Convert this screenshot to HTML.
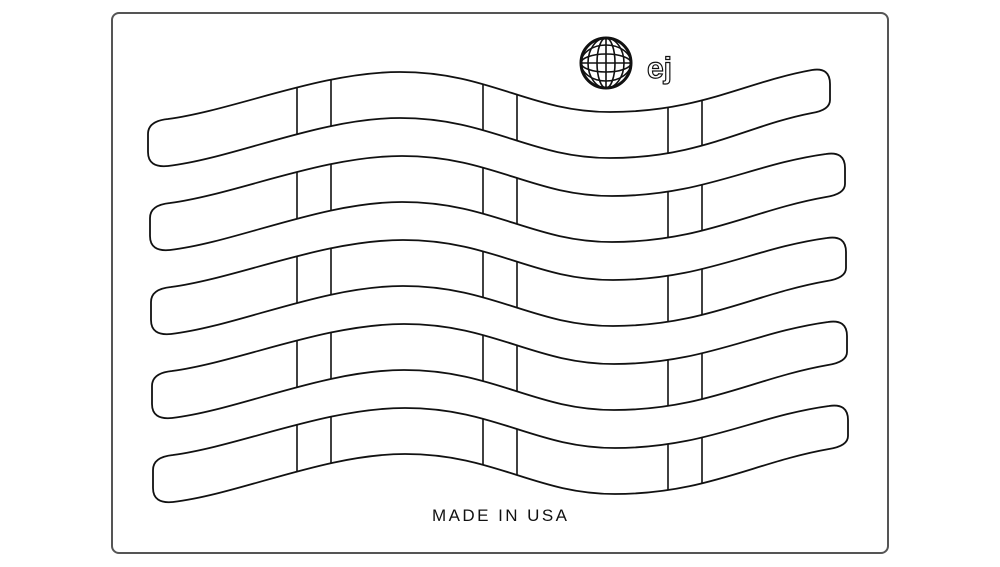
<!DOCTYPE html>
<html><head><meta charset="utf-8"><style>
html,body{margin:0;padding:0;background:#fff;width:1000px;height:567px;overflow:hidden}
</style></head><body>
<svg width="1000" height="567" viewBox="0 0 1000 567" xmlns="http://www.w3.org/2000/svg">
<defs>
<path id="band" d="M168,119 C235,110 320,72 400,72 C490,72 530,112 610,112 C700,112 745,82 812,70 Q830,67 830,84 L830,100 Q830,110 812,113 C745,126 700,158 610,158 C530,158 490,118 400,118 C320,118 235,158 168,166 Q148,168 148,152 L148,134 Q148,121 168,119 Z"/>
<path id="band2" d="M168,119 C235,110 320,72 400,72 C490,72 530,112 610,112 C700,112 750,80 824,70 Q843,67 843,84 L843,100 Q843,110 824,113 C750,126 700,158 610,158 C530,158 490,118 400,118 C320,118 235,158 168,166 Q148,168 148,152 L148,134 Q148,121 168,119 Z"/>
<clipPath id="c1"><use href="#band"/></clipPath>
<clipPath id="c2"><use href="#band2"/></clipPath>
<g id="bars" fill="none" stroke="#111" stroke-width="1.6">
<line x1="297" y1="0" x2="297" y2="200"/><line x1="331" y1="0" x2="331" y2="200"/>
<line x1="483" y1="0" x2="483" y2="200"/><line x1="517" y1="0" x2="517" y2="200"/>
<line x1="668" y1="0" x2="668" y2="200"/><line x1="702" y1="0" x2="702" y2="200"/>
</g>
</defs>
<rect x="112" y="13" width="776" height="540" rx="7" fill="none" stroke="#555" stroke-width="2"/>
<g fill="none" stroke="#111" stroke-width="1.8">
<use href="#band"/>
<g clip-path="url(#c1)"><use href="#bars"/></g>
<g transform="translate(2,84)"><use href="#band2"/><g clip-path="url(#c2)"><use href="#bars" transform="translate(-2,0)"/></g></g>
<g transform="translate(3,168)"><use href="#band2"/><g clip-path="url(#c2)"><use href="#bars" transform="translate(-3,0)"/></g></g>
<g transform="translate(4,252)"><use href="#band2"/><g clip-path="url(#c2)"><use href="#bars" transform="translate(-4,0)"/></g></g>
<g transform="translate(5,336)"><use href="#band2"/><g clip-path="url(#c2)"><use href="#bars" transform="translate(-5,0)"/></g></g>
</g>
<g fill="none" stroke="#111" stroke-width="1.6">
<circle cx="606" cy="63" r="25" stroke-width="3"/>
<ellipse cx="606" cy="63" rx="18" ry="25"/>
<ellipse cx="606" cy="63" rx="9" ry="25"/>
<ellipse cx="606" cy="63" rx="25" ry="18"/>
<ellipse cx="606" cy="63" rx="25" ry="9"/>
<line x1="581" y1="63" x2="631" y2="63"/>
<line x1="606" y1="38" x2="606" y2="88"/>
</g>
<text x="647" y="78" font-family="Liberation Sans, sans-serif" font-size="30" font-weight="bold" fill="none" stroke="#111" stroke-width="1.2">ej</text>
<text x="432" y="521" textLength="135" lengthAdjust="spacing" font-family="Liberation Sans, sans-serif" font-size="17" fill="#111">MADE IN USA</text>
</svg>
</body></html>
